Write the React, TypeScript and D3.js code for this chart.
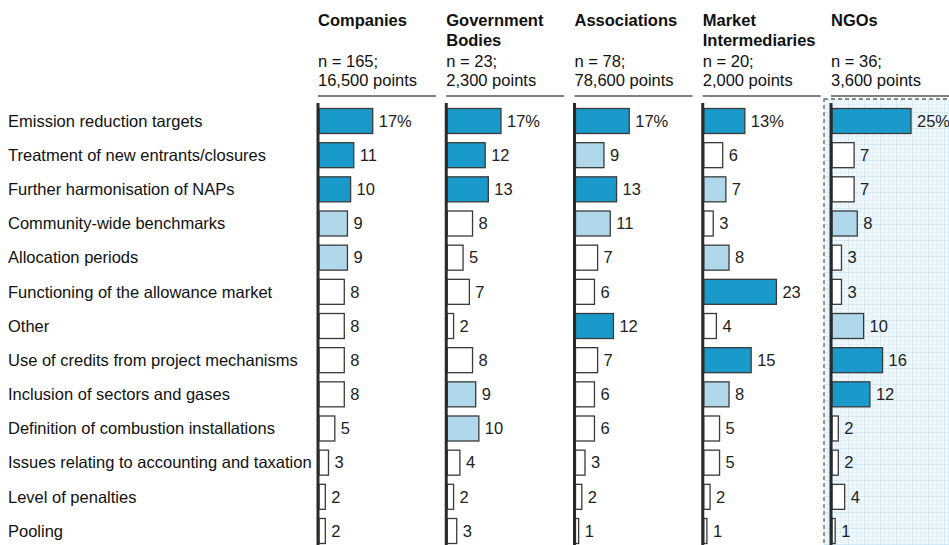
import React from 'react';
import * as d3 from 'd3';

const categories = [
  'Emission reduction targets',
  'Treatment of new entrants/closures',
  'Further harmonisation of NAPs',
  'Community-wide benchmarks',
  'Allocation periods',
  'Functioning of the allowance market',
  'Other',
  'Use of credits from project mechanisms',
  'Inclusion of sectors and gases',
  'Definition of combustion installations',
  'Issues relating to accounting and taxation',
  'Level of penalties',
  'Pooling',
];

const groupTitles = [['Companies'], ['Government', 'Bodies'], ['Associations'], ['Market', 'Intermediaries'], ['NGOs']];
const groupCounts = ['n = 165;', 'n = 23;', 'n = 78;', 'n = 20;', 'n = 36;'];
const groupPoints = ['16,500 points', '2,300 points', '78,600 points', '2,000 points', '3,600 points'];

const companies = [17, 11, 10, 9, 9, 8, 8, 8, 8, 5, 3, 2, 2];
const government = [17, 12, 13, 8, 5, 7, 2, 8, 9, 10, 4, 2, 3];
const associations = [17, 9, 13, 11, 7, 6, 12, 7, 6, 6, 3, 2, 1];
const intermediaries = [13, 6, 7, 3, 8, 23, 4, 15, 8, 5, 5, 2, 1];
const ngos = [25, 7, 7, 8, 3, 3, 10, 16, 12, 2, 2, 4, 1];

// 2 = top mentions, 1 = next mentions, 0 = rest
const companiesTier = [2, 2, 2, 1, 1, 0, 0, 0, 0, 0, 0, 0, 0];
const governmentTier = [2, 2, 2, 0, 0, 0, 0, 0, 1, 1, 0, 0, 0];
const associationsTier = [2, 1, 2, 1, 0, 0, 2, 0, 0, 0, 0, 0, 0];
const intermediariesTier = [2, 0, 1, 0, 1, 2, 0, 2, 1, 0, 0, 0, 0];
const ngosTier = [2, 0, 0, 1, 0, 0, 1, 2, 2, 0, 0, 0, 0];

const series = [companies, government, associations, intermediaries, ngos];
const tiers = [companiesTier, governmentTier, associationsTier, intermediariesTier, ngosTier];

const font = '"Liberation Sans", Arial, sans-serif';
const fs = 16.5;
const tierFill = ['#ffffff', '#afd9ea', '#1a9acb'];

export default function App() {
  const width = 949;
  const height = 545;

  // panel axis positions
  const panelX = d3.scaleLinear().domain([0, 4]).range([318, 831]);
  // value -> bar length
  const x = d3.scaleLinear().domain([0, 25]).range([0, 79]);
  // row centres
  const y = d3.scalePoint<string>().domain(categories).range([121, 531]);
  const barH = 25;

  return (
    <svg width={width} height={height} style={{ position: 'absolute', left: 0, top: 0 }}>
      <defs>
        <pattern id="fine" width="4" height="4" patternUnits="userSpaceOnUse">
          <rect width="4" height="4" fill="#f1f8fc" />
          <path d="M4 0 L0 0 L0 4" fill="none" stroke="#d3e9f5" strokeWidth="0.8" />
        </pattern>
        <pattern id="grid" width="16" height="16" patternUnits="userSpaceOnUse">
          <rect width="16" height="16" fill="url(#fine)" />
          <path d="M16 0 L0 0 L0 16" fill="none" stroke="#bfe0f0" strokeWidth="0.9" />
        </pattern>
      </defs>
      <rect width={width} height={height} fill="#fff" />

      {/* highlighted NGO panel */}
      <rect x={824} y={99} width={140} height={460} fill="url(#grid)"
        stroke="#666" strokeWidth={1.3} strokeDasharray="4,3" />

      {categories.map(c => (
        <text key={c} x={8} y={y(c)} dy="0.35em" fontFamily={font} fontSize={fs} fill="#111">{c}</text>
      ))}

      {series.map((vals, gi) => {
        const x0 = panelX(gi);
        return (
          <g key={gi}>
            {groupTitles[gi].map((t, li) => (
              <text key={t} x={x0} y={26 + li * 20} fontFamily={font} fontSize={fs} fontWeight="bold" fill="#111">{t}</text>
            ))}
            <text x={x0} y={67} fontFamily={font} fontSize={fs} fill="#111">{groupCounts[gi]}</text>
            <text x={x0} y={86} fontFamily={font} fontSize={fs} fill="#111">{groupPoints[gi]}</text>
            <line x1={x0} x2={x0 + 118} y1={96} y2={96} stroke="#808080" strokeWidth={2} />

            {vals.map((v, i) => {
              const cy = y(categories[i]) as number;
              return (
                <g key={i}>
                  <rect x={x0 + 1} y={cy - barH / 2} width={x(v)} height={barH}
                    fill={tierFill[tiers[gi][i]]} stroke="#3a3a3a" strokeWidth={1.3} />
                  <text x={x0 + 1 + x(v) + 6} y={cy} dy="0.35em" fontFamily={font} fontSize={fs} fill="#222">
                    {i === 0 ? `${v}%` : v}
                  </text>
                </g>
              );
            })}
            <line x1={x0} x2={x0} y1={103} y2={545} stroke="#2a2a2a" strokeWidth={3} />
          </g>
        );
      })}
    </svg>
  );
}
